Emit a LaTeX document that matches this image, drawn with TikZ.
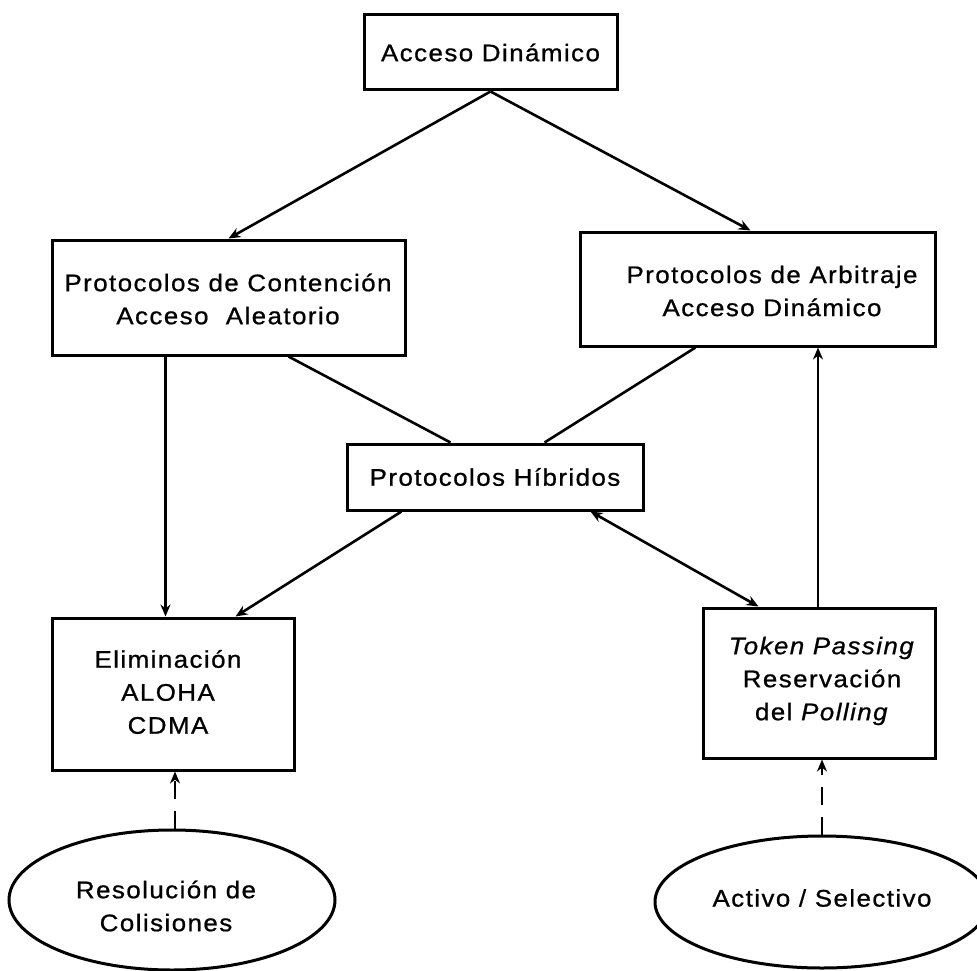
\documentclass[tikz,border=0pt]{standalone}
\usepackage{fontspec}
\setmainfont{Liberation Sans}[FakeStretch=1.08,LetterSpace=6,FakeBold=0.8]
\usetikzlibrary{arrows.meta,shapes.geometric}

\begin{document}
\begin{tikzpicture}[x=1pt,y=-1pt,
  every node/.style={font=\fontsize{24}{33}\selectfont, align=center, inner sep=0pt},
  box/.style={draw, line width=3pt, rectangle},
  oval/.style={draw, line width=3pt, ellipse},
  link/.style={line width=2.6pt},
  tip/.style={-{Stealth[length=12pt,width=10pt]}},
  dashlink/.style={line width=2.6pt, dash pattern=on 18pt off 12pt}
]
\useasboundingbox (0,0) rectangle (977,971);
\fill[white] (0,0) rectangle (977,971);

% boxes
\node[box, minimum width=253pt, minimum height=75pt] (top) at (490.5,52.5) {Acceso Dinámico};
\node[box, minimum width=353pt, minimum height=115pt] (cont) at (228.5,297.5) {};
\node at (228,299) {Protocolos de Contención\\Acceso~~Aleatorio};
\node[box, minimum width=355pt, minimum height=114pt] (arb) at (757.5,289) {};
\node at (772,291) {Protocolos de Arbitraje\\Acceso Dinámico};
\node[box, minimum width=296pt, minimum height=66pt] (hib) at (495,477) {Protocolos Híbridos};
\node[box, minimum width=242pt, minimum height=152pt] (elim) at (173,694) {};
\node at (168,692) {Eliminación\\ALOHA\\CDMA};
\node[box, minimum width=232pt, minimum height=150pt] (tok) at (819,683) {};
\node at (822,681) {\textit{Token Passing}\\Reservación\\del \textit{Polling}};

% ellipses
\node[oval, minimum width=326pt, minimum height=140pt] (res) at (172,900) {};
\node at (166,906) {Resolución de\\Colisiones};
\node[oval, minimum width=334pt, minimum height=132pt] (act) at (822,902) {};
\node at (822,898) {Activo / Selectivo};

% connectors
\draw[link,tip] (top.south) -- ([xshift=178pt]cont.north west);
\draw[link,tip] (top.south) -- ([xshift=172pt]arb.north west);
\draw[link,tip] ([xshift=115pt]cont.south west) -- ([xshift=115pt]elim.north west);
\draw[link] ([xshift=238pt]cont.south west) -- ([xshift=105pt]hib.north west);
\draw[link] ([xshift=117pt]arb.south west) -- ([xshift=199pt]hib.north west);
\draw[link,tip] ([xshift=56pt]hib.south west) -- ([xshift=185pt]elim.north west);
\draw[link,{Stealth[length=12pt,width=10pt]}-{Stealth[length=12pt,width=10pt]}] ([xshift=245pt]hib.south west) -- ([xshift=57pt]tok.north west);
\draw[link,tip] ([xshift=-1pt]tok.north) -- ([xshift=-1pt]tok.north |- arb.south);
\draw[dashlink,tip] ([xshift=3pt]res.north) -- ([xshift=3pt]res.north |- elim.south);
\draw[dashlink,tip] (act.north) -- (act.north |- tok.south);
\end{tikzpicture}
\end{document}
